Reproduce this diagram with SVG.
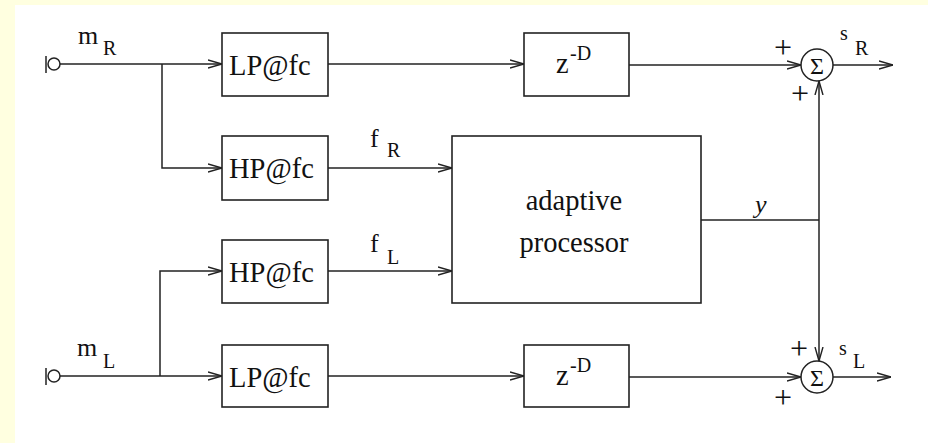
<svg xmlns="http://www.w3.org/2000/svg" width="928" height="443" viewBox="0 0 928 443" font-family="'Liberation Serif', 'DejaVu Serif', Times, serif">
<style>
.bg{fill:#ffffe0}
.box{fill:#fff;stroke:#222;stroke-width:1.6}
.ln{fill:none;stroke:#222;stroke-width:1.5}
text{font-family:'Liberation Serif', 'DejaVu Serif', Times, serif;fill:#111}
.bt{font-size:28.5px}
.lb{font-size:26px}
.sb{font-size:20px}
.pl{font-size:32px}
</style>
<defs>
<marker id="ah" viewBox="0 0 14 10" refX="14" refY="5" markerWidth="14" markerHeight="10" markerUnits="userSpaceOnUse" orient="auto">
<path d="M0,1 L14,5 L0,9" fill="none" stroke="#222" stroke-width="1.4"/>
</marker>
</defs>
<rect class="bg" x="0" y="0" width="928" height="443"/>
<rect x="15" y="5" width="913" height="438" fill="#fff"/>

<g id="in-mR">
<circle class="ln" cx="54" cy="64" r="6"/>
<line class="ln" x1="46" y1="56" x2="46" y2="73"/>
<text class="lb" x="78" y="44">m</text><text class="sb" x="103" y="55">R</text>
</g>
<g id="in-mL">
<circle class="ln" cx="54" cy="376" r="6"/>
<line class="ln" x1="46" y1="368" x2="46" y2="385"/>
<text class="lb" x="77" y="356">m</text><text class="sb" x="103" y="368">L</text>
</g>

<g id="lp-top"><rect class="box" x="222" y="33" width="106" height="63"/><text class="bt" x="229" y="75">LP@fc</text></g>
<g id="hp-top"><rect class="box" x="222" y="136" width="106" height="64"/><text class="bt" x="229" y="178">HP@fc</text></g>
<g id="hp-bot"><rect class="box" x="222" y="240" width="106" height="63"/><text class="bt" x="229" y="282">HP@fc</text></g>
<g id="lp-bot"><rect class="box" x="222" y="345" width="106" height="62"/><text class="bt" x="229" y="387">LP@fc</text></g>

<g id="delay-top"><rect class="box" x="524" y="33" width="105" height="63"/><text class="bt" x="556" y="73">z</text><text class="sb" x="570" y="60">-D</text></g>
<g id="delay-bot"><rect class="box" x="524" y="345" width="105" height="62"/><text class="bt" x="556" y="385">z</text><text class="sb" x="570" y="372">-D</text></g>

<g id="adaptive"><rect class="box" x="452" y="136" width="249" height="167"/>
<text class="bt" x="574" y="210" text-anchor="middle">adaptive</text>
<text class="bt" x="574" y="252" text-anchor="middle">processor</text></g>

<g id="sum-R"><circle class="ln" cx="817" cy="65" r="16"/><text x="817" y="74" font-size="24" text-anchor="middle">Σ</text>
<text class="pl" x="774" y="58">+</text><text class="pl" x="791" y="104">+</text></g>
<g id="sum-L"><circle class="ln" cx="817" cy="377" r="16"/><text x="817" y="386" font-size="24" text-anchor="middle">Σ</text>
<text class="pl" x="790" y="359">+</text><text class="pl" x="774" y="408">+</text></g>

<g id="connectors">
<path class="ln" d="M60,64 H222" marker-end="url(#ah)"/>
<path class="ln" d="M162,64 V168 H222" marker-end="url(#ah)"/>
<path class="ln" d="M328,64 H524" marker-end="url(#ah)"/>
<path class="ln" d="M629,65 H801" marker-end="url(#ah)"/>
<path class="ln" d="M328,168 H452" marker-end="url(#ah)"/>
<path class="ln" d="M60,376 H222" marker-end="url(#ah)"/>
<path class="ln" d="M160,376 V271 H222" marker-end="url(#ah)"/>
<path class="ln" d="M328,271 H452" marker-end="url(#ah)" stroke-width="2"/>
<path class="ln" d="M328,376 H524" marker-end="url(#ah)"/>
<path class="ln" d="M629,377 H801" marker-end="url(#ah)"/>
<path class="ln" d="M701,220 H819"/>
<path class="ln" d="M819,220 V81" marker-end="url(#ah)"/>
<path class="ln" d="M819,220 V361" marker-end="url(#ah)"/>
<path class="ln" d="M833,65 H893" marker-end="url(#ah)"/>
<path class="ln" d="M833,377 H891" marker-end="url(#ah)"/>
</g>

<g id="labels">
<text class="lb" x="370" y="147">f</text><text class="sb" x="387" y="157">R</text>
<text class="lb" x="370" y="252">f</text><text class="sb" x="387" y="264">L</text>
<text class="lb" x="755" y="213" font-style="italic">y</text>
<text class="sb" x="840" y="40">s</text><text class="sb" x="855" y="55">R</text>
<text class="sb" x="839" y="355">s</text><text class="sb" x="853" y="368">L</text>
</g>
</svg>
